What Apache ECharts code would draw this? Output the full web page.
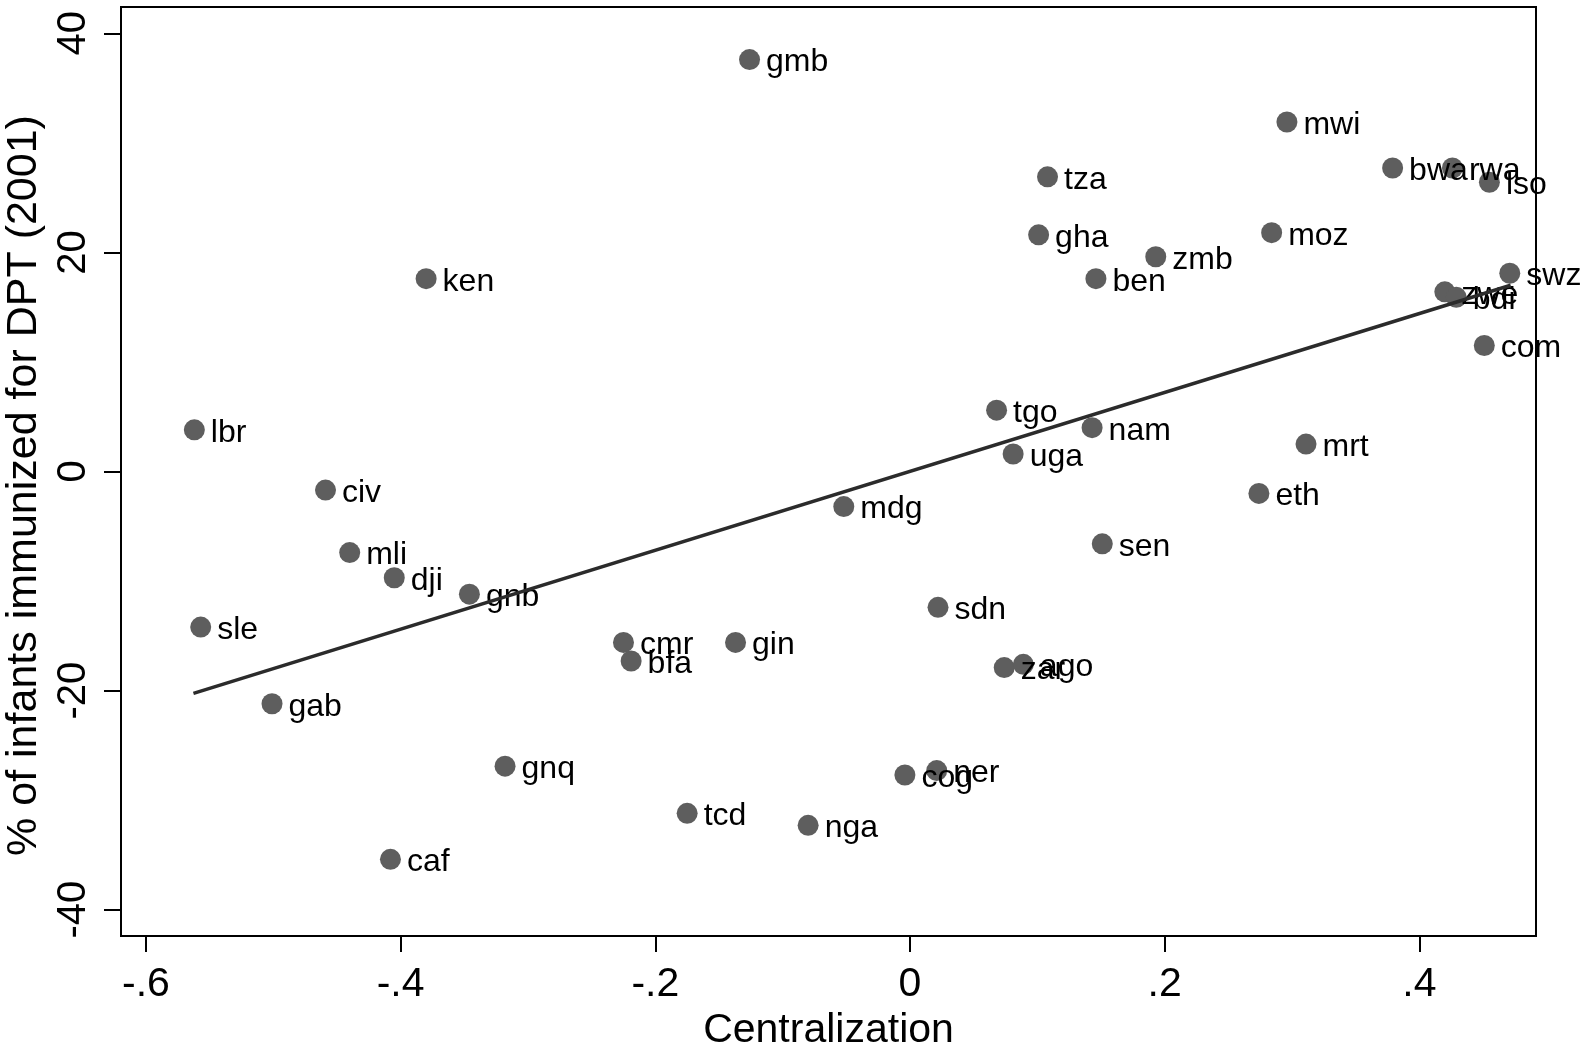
<!DOCTYPE html>
<html>
<head>
<meta charset="utf-8">
<title>Centralization vs DPT immunization</title>
<script src="https://cdn.jsdelivr.net/npm/echarts@6/dist/echarts.min.js"></script>
<style>
  html, body { margin: 0; padding: 0; background: #fff; }
  #chart { width: 1585px; height: 1045px; }
</style>
</head>
<body>
<div id="chart"></div>
<script>
// Country codes and values
var countries = ['gmb', 'mwi', 'bwa', 'rwa', 'lso', 'tza', 'gha', 'moz', 'zmb', 'ben',
  'ken', 'swz', 'zwe', 'bdi', 'com', 'lbr', 'tgo', 'nam', 'uga', 'mrt',
  'civ', 'eth', 'mdg', 'mli', 'dji', 'sen', 'gnb', 'sdn', 'sle', 'cmr',
  'bfa', 'gin', 'zar', 'ago', 'gab', 'gnq', 'cog', 'ner', 'tcd', 'nga', 'caf'];
var centralization = [-0.126, 0.296, 0.379, 0.426, 0.455, 0.108, 0.101, 0.284, 0.193, 0.146,
  -0.380, 0.471, 0.420, 0.429, 0.451, -0.562, 0.068, 0.143, 0.081, 0.311,
  -0.459, 0.274, -0.052, -0.440, -0.405, 0.151, -0.346, 0.022, -0.557, -0.225,
  -0.219, -0.137, 0.074, 0.089, -0.501, -0.318, -0.004, 0.021, -0.175, -0.080, -0.408];
var dpt = [37.6, 31.9, 27.7, 27.7, 26.4, 26.9, 21.6, 21.8, 19.6, 17.6,
  17.6, 18.1, 16.4, 15.9, 11.5, 3.8, 5.6, 4.0, 1.6, 2.5,
  -1.7, -2.0, -3.2, -7.4, -9.7, -6.6, -11.2, -12.4, -14.2, -15.6,
  -17.3, -15.6, -17.9, -17.6, -21.2, -26.9, -27.7, -27.3, -31.2, -32.3, -35.4];

// fitted line end points
var fitLine = [[-0.5627, -20.26], [0.4717, 17.0]];

var xTicks = [-0.6, -0.4, -0.2, 0, 0.2, 0.4];
var xTickLabels = ['-.6', '-.4', '-.2', '0', '.2', '.4'];
var yTicks = [-40, -20, 0, 20, 40];

var points = countries.map(function (c, i) {
  return { name: c, value: [centralization[i], dpt[i]] };
});

var font = 'Liberation Sans, Arial, Helvetica, sans-serif';

var myChart = echarts.init(document.getElementById('chart'), null, { renderer: 'canvas' });

myChart.setOption({
  animation: false,
  backgroundColor: '#fff',
  grid: {
    left: 121, right: 49, top: 7, bottom: 109,
    outerBoundsMode: 'none',
    containLabel: false,
    show: true, borderColor: '#000', borderWidth: 2, backgroundColor: 'transparent'
  },
  xAxis: {
    type: 'value',
    min: -0.6196, max: 0.4916,
    name: 'Centralization',
    nameLocation: 'middle',
    nameGap: 61,
    nameTextStyle: { fontFamily: font, fontSize: 41, color: '#000' },
    axisLine: { show: false, onZero: false },
    splitLine: { show: false },
    axisTick: { show: true, inside: false, length: 16, customValues: xTicks, lineStyle: { color: '#000', width: 2 } },
    axisLabel: {
      customValues: xTicks,
      margin: 28,
      fontFamily: font, fontSize: 41, color: '#000',
      formatter: function (v) {
        var i = xTicks.findIndex(function (t) { return Math.abs(t - v) < 1e-9; });
        return i >= 0 ? xTickLabels[i] : '';
      }
    }
  },
  yAxis: {
    type: 'value',
    min: -42.4, max: 42.4,
    name: '% of infants immunized for DPT (2001)',
    nameLocation: 'middle',
    nameRotate: 90,
    nameGap: 66,
    nameTextStyle: { fontFamily: font, fontSize: 43, color: '#000', padding: [0, 28, 0, 0] },
    axisLine: { show: false, onZero: false },
    splitLine: { show: false },
    axisTick: { show: true, inside: false, length: 17, customValues: yTicks, lineStyle: { color: '#000', width: 2 } },
    axisLabel: {
      customValues: yTicks,
      rotate: 90,
      margin: 27,
      fontFamily: font, fontSize: 40, color: '#000'
    }
  },
  series: [
    {
      type: 'scatter',
      data: points,
      symbolSize: 21,
      itemStyle: { color: '#5e5e5e', opacity: 1 },
      label: {
        show: true,
        position: 'right',
        distance: 6,
        offset: [0, 3],
        formatter: '{b}',
        fontFamily: font,
        fontSize: 32,
        color: '#000'
      },
      z: 2
    },
    {
      type: 'line',
      data: fitLine,
      symbol: 'none',
      lineStyle: { color: '#2b2b2b', width: 3.5 },
      z: 3
    }
  ]
});

window.addEventListener('resize', myChart.resize);
</script>
</body>
</html>
